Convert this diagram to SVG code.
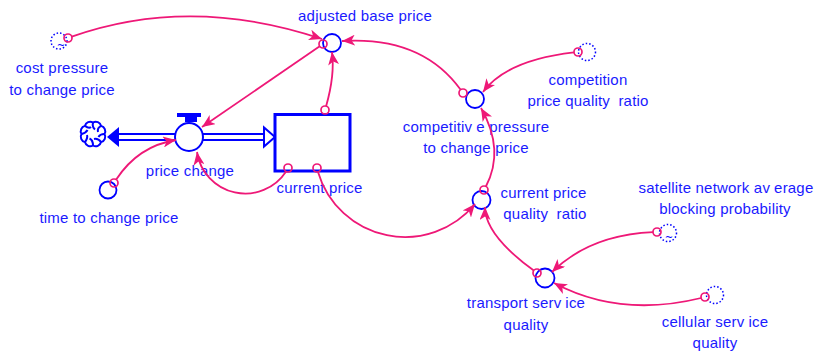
<svg xmlns="http://www.w3.org/2000/svg" width="817" height="352" viewBox="0 0 817 352">
<defs>
<marker id="ah" markerUnits="userSpaceOnUse" markerWidth="13" markerHeight="11" viewBox="0 0 13 11" refX="13" refY="5.5" orient="auto">
<path d="M0,0 L13,5.5 L0,11 L3.5,5.5 z" fill="#EE1877"/>
</marker>
<style>
.lbl{font-family:"Liberation Sans",Arial,sans-serif;font-size:15px;fill:#1a1aff;text-anchor:middle;letter-spacing:0.2px}
.aux{fill:#fff;stroke:#0000ff;stroke-width:1.8}
.shd{fill:none;stroke:#0000ff;stroke-width:1.5;stroke-dasharray:1.5 2}
.org{fill:none;stroke:#EE1877;stroke-width:1.7}
.lnk{fill:none;stroke:#EE1877;stroke-width:1.8;marker-end:url(#ah)}
.tld{font-family:"DejaVu Sans",sans-serif;font-size:10px;fill:#0000ff;text-anchor:middle}
</style>
</defs>
<rect width="817" height="352" fill="#fff"/>

<g id="flow-pipe">
<line x1="118" y1="134" x2="265" y2="134" stroke="#0000ff" stroke-width="2"/>
<line x1="118" y1="140" x2="265" y2="140" stroke="#0000ff" stroke-width="2"/>
<polygon points="107,137 119,127 119,147" fill="#0000ff"/>
<polygon points="275,137 264,127.5 264,146.5" fill="#fff" stroke="#0000ff" stroke-width="2"/>
</g>

<g id="cloud" fill="none" stroke="#0000ff" stroke-width="2">
<path d="M104.5,134 A5.5 5.5 0 0 1 101.1,142.1 A5.5 5.5 0 0 1 93,145.5 A5.5 5.5 0 0 1 84.9,142.1 A5.5 5.5 0 0 1 81.5,134 A5.5 5.5 0 0 1 84.9,125.9 A5.5 5.5 0 0 1 93,122.5 A5.5 5.5 0 0 1 101.1,125.9 A5.5 5.5 0 0 1 104.5,134 Z"/>
<path d="M93,122.5 Q92,127 95,129.5"/>
<path d="M101.1,125.9 Q97,128 98,132"/>
<path d="M104.5,134 Q100,134 98.5,137"/>
<path d="M101.1,142.1 Q98,138 94,139"/>
<path d="M93,145.5 Q93,140 89.5,138.5"/>
<path d="M84.9,142.1 Q88,138 87,135"/>
<path d="M81.5,134 Q86,133 87.5,130"/>
<path d="M84.9,125.9 Q89,129 91,127"/>
</g>

<g id="current-price">
<rect x="275" y="114.5" width="75" height="56.5" fill="#fff" stroke="#0000ff" stroke-width="3"/>
<text class="lbl" x="319.5" y="193">current price</text>
</g>

<g id="price-change">
<rect x="177" y="113" width="24" height="4" fill="#0000ff"/>
<rect x="185" y="116" width="12" height="6" fill="#0000ff"/>
<circle cx="189" cy="137" r="14" fill="#fff" stroke="#0000ff" stroke-width="2"/>
<text class="lbl" x="190" y="176">price change</text>
</g>

<g id="cost-pressure">
<circle class="shd" cx="59" cy="41" r="8"/>
<text class="tld" x="61" y="49">~</text>
<text class="lbl" x="62" y="73">cost pressure</text>
<text class="lbl" x="62" y="95">to change price</text>
</g>

<g id="adjusted-base-price">
<circle class="aux" cx="332" cy="43" r="9"/>
<text class="lbl" x="365" y="21">adjusted base price</text>
</g>

<g id="competition-price-quality-ratio">
<circle class="shd" cx="587" cy="52" r="8.5"/>
<text class="lbl" x="588" y="85">competition</text>
<text class="lbl" x="588" y="106">price quality <tspan dx="4">ratio</tspan></text>
</g>

<g id="competitive-pressure">
<circle class="aux" cx="475" cy="99" r="9"/>
<text class="lbl" x="476" y="132">competitiv<tspan dx="4">e pressure</tspan></text>
<text class="lbl" x="476" y="153">to change price</text>
</g>

<g id="time-to-change-price">
<circle class="aux" cx="108" cy="190" r="8.5"/>
<text class="lbl" x="109" y="223">time to change price</text>
</g>

<g id="current-price-quality-ratio">
<circle class="aux" cx="481.5" cy="200" r="9"/>
<text class="lbl" x="543.5" y="198">current price</text>
<text class="lbl" x="545" y="219">quality <tspan dx="4">ratio</tspan></text>
</g>

<g id="satellite-network-average-blocking-probability">
<circle class="shd" cx="668" cy="233" r="8.5"/>
<text class="tld" x="669" y="241">~</text>
<text class="lbl" x="726" y="193">satellite network av<tspan dx="4">erage</tspan></text>
<text class="lbl" x="725" y="214">blocking probability</text>
</g>

<g id="transport-service-quality">
<circle class="aux" cx="545" cy="278" r="9.5"/>
<text class="lbl" x="526" y="308">transport serv<tspan dx="4">ice</tspan></text>
<text class="lbl" x="526" y="330">quality</text>
</g>

<g id="cellular-service-quality">
<circle class="shd" cx="715" cy="295" r="8.5"/>
<text class="lbl" x="715" y="327">cellular serv<tspan dx="4">ice</tspan></text>
<text class="lbl" x="715" y="348">quality</text>
</g>

<g id="connectors">
<path class="lnk" d="M71.8,36.7 Q190,-5 322,39"/>
<path class="lnk" d="M319.7,46.3 L202,127"/>
<path class="lnk" d="M326.1,106.2 Q335,75 332,52"/>
<path class="lnk" d="M460.7,89.8 Q422,36 342,41"/>
<path class="lnk" d="M574,52.4 Q507,60 483,92"/>
<path class="lnk" d="M485.9,186.5 Q505,150 481,108"/>
<path class="lnk" d="M318,171.9 A90.7 90.7 0 0 0 475,204"/>
<path class="lnk" d="M286.1,171.5 A48.8 48.8 0 0 1 197,152"/>
<path class="lnk" d="M116.2,179.6 Q138,146 176,140"/>
<path class="lnk" d="M533.8,270.6 Q485,235 485,207"/>
<path class="lnk" d="M653,232.2 Q590,235 552,272"/>
<path class="lnk" d="M701.1,298 Q620,318 554,283"/>
<circle class="org" cx="68" cy="38" r="4"/>
<circle class="org" cx="323" cy="44" r="4"/>
<circle class="org" cx="325" cy="110" r="4"/>
<circle class="org" cx="463" cy="93" r="4"/>
<circle class="org" cx="578" cy="52" r="4"/>
<circle class="org" cx="484" cy="190" r="4"/>
<circle class="org" cx="288" cy="168" r="4"/>
<circle class="org" cx="317" cy="168" r="4"/>
<circle class="org" cx="114" cy="183" r="4"/>
<circle class="org" cx="537" cy="273" r="4"/>
<circle class="org" cx="657" cy="232" r="4"/>
<circle class="org" cx="705" cy="297" r="4"/>
</g>
</svg>
